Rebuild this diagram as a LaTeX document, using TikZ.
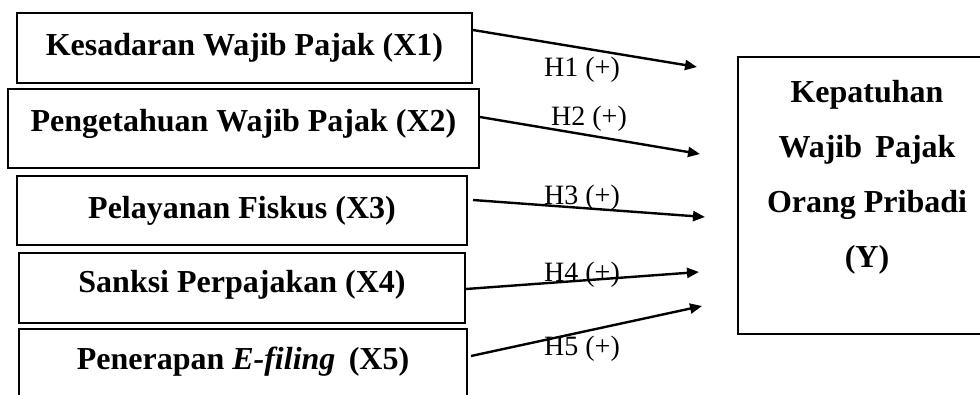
\documentclass[tikz,border=0pt]{standalone}
\usepackage{fontspec}
\setmainfont{Liberation Serif}
\usetikzlibrary{arrows.meta}
\begin{document}
\begin{tikzpicture}[x=1pt,y=-1pt,
  varbox/.style={draw, line width=2pt, inner sep=0pt, font=\fontsize{32}{38}\selectfont\bfseries, align=center},
  hyp/.style={font=\fontsize{28}{32}\selectfont, inner sep=0pt},
  link/.style={line width=2.4pt, -{Triangle[length=12pt,width=10pt]}}]
\useasboundingbox (0,0) rectangle (980,394);
\clip (0,0) rectangle (980,394);
\node[varbox, minimum width=455pt, minimum height=70pt] (x1) at (244.5,48) {Kesadaran Wajib Pajak (X1)};
\node[varbox, minimum width=471pt, minimum height=79pt, text depth=16pt] (x2) at (243.5,128.5) {Pengetahuan Wajib Pajak (X2)};
\node[varbox, minimum width=450pt, minimum height=69pt] (x3) at (242,210.5) {Pelayanan Fiskus (X3)};
\node[varbox, minimum width=446pt, minimum height=70pt, text depth=14pt] (x4) at (242,288) {Sanksi Perpajakan (X4)};
\node[varbox, minimum width=448pt, minimum height=70pt, text depth=12pt] (x5) at (243,364) {Penerapan \textit{E-filing}\, (X5)};
\node[varbox, minimum width=258pt, minimum height=277pt, font=\fontsize{32}{55}\selectfont\bfseries] (y) at (867,195) {Kepatuhan\\Wajib\, Pajak\\Orang Pribadi\\(Y)\\[-12pt]\mbox{}};
\coordinate (e1) at (697,67);
\coordinate (e2) at (700,154);
\coordinate (e3) at (705,217);
\coordinate (e4) at (699,272);
\coordinate (e5) at (702,306);
\draw[link] ([yshift=18pt]x1.east) -- (e1);
\draw[link] ([yshift=11.5pt]x2.east) -- (e2);
\draw[link] ([xshift=5pt,yshift=10.5pt]x3.east) -- (e3);
\draw[link] ([yshift=-1pt]x4.east) -- (e4);
\draw[link] ([xshift=3pt,yshift=8pt]x5.east) -- (e5);
\node[hyp] (h1) at (582,70) {H1 (+)};
\node[hyp] (h2) at (589,119) {H2 (+)};
\node[hyp] (h3) at (582,198) {H3 (+)};
\node[hyp] (h4) at (582,275) {H4 (+)};
\node[hyp] (h5) at (582,349) {H5 (+)};
\end{tikzpicture}
\end{document}
